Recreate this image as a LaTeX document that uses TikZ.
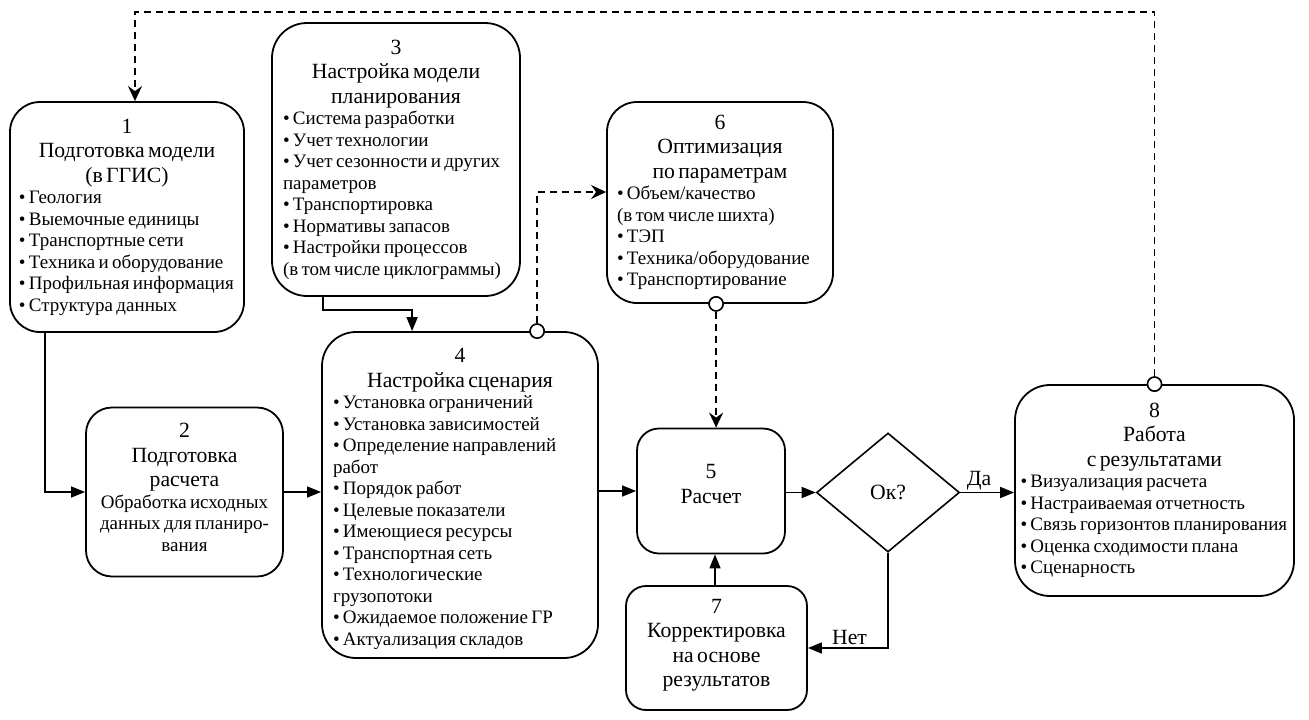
\documentclass[tikz,border=0pt]{standalone}
\usepackage{fontspec}
\setmainfont{Liberation Serif}
\usetikzlibrary{arrows.meta,shapes.geometric,calc}
\newcommand{\ttlf}{\fontsize{21.7}{24.5}\selectfont}
\newcommand{\bdyf}{\fontsize{19}{21.5}\selectfont}
\newcommand{\hd}[1]{{\parindent=0pt\parskip=0pt\ttlf\centering #1\par}}
\newcommand{\bl}[1]{{\parindent=0pt\parskip=0pt\bdyf\raggedright #1\par}}
\newcommand{\cb}[1]{{\parindent=0pt\parskip=0pt\bdyf\centering #1\par}}
\newcommand{\bi}[1]{\mbox{•\ #1}}
\tikzset{
  box/.style={draw, line width=1.8pt, rounded corners=#1, inner sep=0pt},
  arr/.style={line width=1.6pt, -{Triangle[length=14pt,width=11pt]}},
  darr/.style={line width=1.6pt, dash pattern=on 7pt off 5pt, -{Stealth[length=15pt,width=14pt,inset=5pt]}},
  dot/.style={circle, draw, fill=white, line width=1.5pt, minimum size=14pt, inner sep=0pt},
  lbl/.style={font=\ttlf, inner sep=2pt},
}
\begin{document}
\begin{tikzpicture}[x=1pt,y=-1pt]
\useasboundingbox (0,0) rectangle (1309,720);

\node[box=30pt, minimum width=234pt, minimum height=230pt, text width=216pt] (b1) at (127,217)
 {\hd{1\\Подготовка модели\\(в ГГИС)}\bl{\bi{Геология}\\\bi{Выемочные единицы}\\\bi{Транспортные сети}\\\bi{Техника и оборудование}\\\bi{Профильная информация}\\\bi{Структура данных}}};

\node[box=26pt, minimum width=197pt, minimum height=169pt, text width=190pt, text height=4.7pt] (b2) at (184.5,492)
 {\hd{2\\Подготовка\\расчета}\cb{Обработка исходных\\данных для планиро-\\вания}};

\node[box=35pt, minimum width=248pt, minimum height=273pt, text width=226pt] (b3) at (396,159.5)
 {\hd{3\\Настройка модели\\планирования}\bl{\bi{Система разработки}\\\bi{Учет технологии}\\\bi{Учет сезонности и других}\\\mbox{параметров}\\\bi{Транспортировка}\\\bi{Нормативы запасов}\\\bi{Настройки процессов}\\\mbox{(в том числе циклограммы)}}};

\node[box=34pt, minimum width=276pt, minimum height=326pt, text width=254pt, text height=22pt] (b4) at (460,495)
 {\hd{4\\Настройка сценария}\bl{\bi{Установка ограничений}\\\bi{Установка зависимостей}\\\bi{Определение направлений}\\\mbox{работ}\\\bi{Порядок работ}\\\bi{Целевые показатели}\\\bi{Имеющиеся ресурсы}\\\bi{Транспортная сеть}\\\bi{Технологические}\\\mbox{грузопотоки}\\\bi{Ожидаемое положение ГР}\\\bi{Актуализация складов}}};

\node[box=22pt, minimum width=148pt, minimum height=125pt, text width=140pt, text height=0pt] (b5) at (711,491)
 {\hd{5\\Расчет}};

\node[box=30pt, minimum width=226pt, minimum height=201pt, text width=206pt] (b6) at (720,202.5)
 {\hd{6\\Оптимизация\\по параметрам}\bl{\bi{Объем/качество}\\\mbox{(в том числе шихта)}\\\bi{ТЭП}\\\bi{Техника/оборудование}\\\bi{Транспортирование}}};

\node[box=20pt, minimum width=181pt, minimum height=124pt, text width=170pt, text height=9pt] (b7) at (716.5,648)
 {\hd{7\\Корректировка\\на основе\\результатов}};

\node[box=35pt, minimum width=279pt, minimum height=211pt, text width=268pt] (b8) at (1154.5,490.5)
 {\hd{8\\Работа\\с результатами}\bl{\bi{Визуализация расчета}\\\bi{Настраиваемая отчетность}\\\bi{Связь горизонтов планирования}\\\bi{Оценка сходимости плана}\\\bi{Сценарность}}};

\node[draw, diamond, line width=1.6pt, minimum width=143pt, minimum height=119pt, inner sep=0pt, font=\ttlf] (d) at (888,492.5) {Ок?};

% solid connectors
\draw[arr] ([xshift=36pt]b1.south west) |- (b2.west);
\draw[arr] (b2.east) -- (b2.east -| b4.west);
\draw[arr] ([xshift=52pt]b3.south west) -- ++(0,13) -| ([xshift=91pt]b4.north west);
\draw[arr] (b4.east |- b5.west) -- (b5.west);
\draw[arr] (b5.east |- d.west) -- (d.west);
\draw[arr] (d.east) -- (d.east -| b8.west) node[lbl, above, pos=0.35] (da) {Да};
\draw[arr] (d.south) |- (b7.east) node[lbl, above, pos=0.74] (net) {Нет};
\draw[arr] ([xshift=-1.5pt]b7.north) -- ([xshift=-1.5pt]b7.north |- b5.south);

% dashed connectors with circles
\node[dot] (c4) at ([xshift=216pt]b4.north west) {};
\node[dot] (c6) at ([xshift=110pt]b6.south west) {};
\node[dot] (c8) at (b8.north) {};
\coordinate (tl) at (135,12);
\draw[darr] (c4.north) |- ([yshift=10.5pt]b6.west);
\draw[darr] (c6.south) -- (c6.south |- b5.north);
\draw[darr] (c8.north) |- (tl) -- (tl |- b1.north);
\node[dot] at (c4) {};
\node[dot] at (c6) {};
\node[dot] at (c8) {};
\end{tikzpicture}
\end{document}
